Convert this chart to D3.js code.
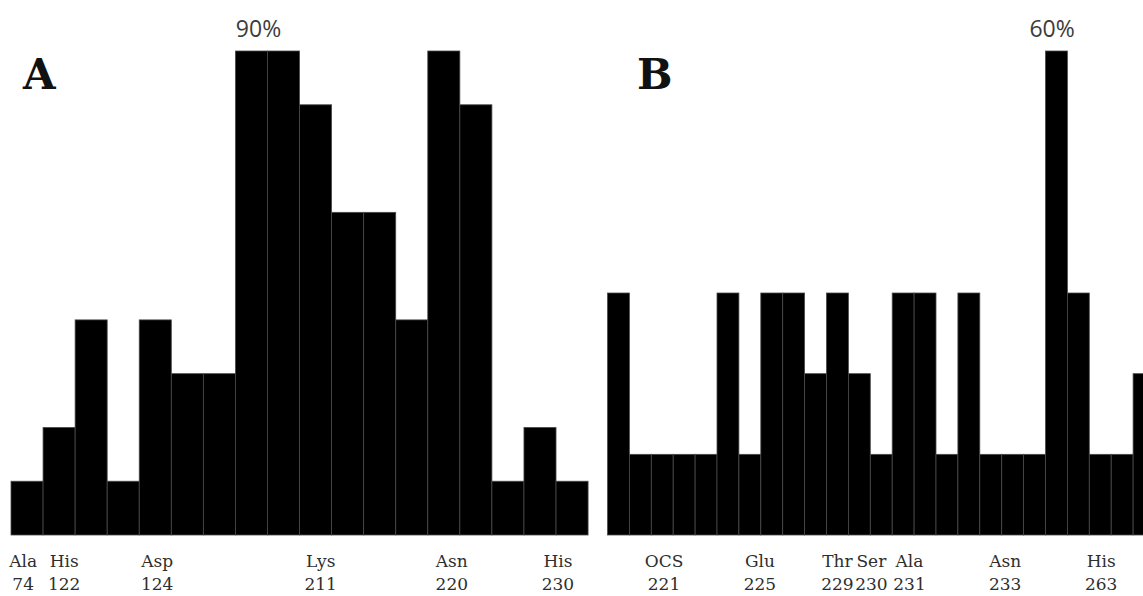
<!DOCTYPE html>
<html>
<head>
<meta charset="utf-8">
<script src="https://cdn.jsdelivr.net/npm/d3@7"></script>
<style>
    body { margin: 0; background: #fff; }
    .tick-label { font-family: "DejaVu Serif", serif; font-size: 17px; fill: #2e2e2e; }
    .panel-letter { font-family: "DejaVu Serif", serif; font-weight: bold; font-size: 42px; fill: #111; }
    .peak-label { font-family: "Open Sans", sans-serif; font-size: 23px; fill: #3c3c3c; }
</style>
</head>
<body>
<svg id="chart" width="1143" height="596"></svg>
<script>
/*
    Values for panel A (percent per position)
 */
var valuesA = [10, 20, 40, 10, 40, 30, 30, 90, 90, 80, 60, 60, 40, 90, 80, 10, 20, 10];

/*
    Values for panel B (percent per position)
 */
var valuesB = [30, 10, 10, 10, 10, 30, 10, 30, 30, 20, 30, 20, 10, 30, 30, 10, 30, 10, 10, 10, 60, 30, 10, 10, 20];

/*
    Tick labels: residue names, residue numbers and where they sit (in bar units)
 */
var namesA = ["Ala", "His", "Asp", "Lys", "Asn", "His"];
var numbersA = ["74", "122", "124", "211", "220", "230"];
var positionsA = [0.38, 1.66, 4.56, 9.66, 13.75, 17.06];

var namesB = ["OCS", "Glu", "Thr", "Ser", "Ala", "Asn", "His"];
var numbersB = ["221", "225", "229", "230", "231", "233", "263"];
var positionsB = [2.58, 6.96, 10.5, 12.05, 13.79, 18.16, 22.54];

var peakA = {text: "90%", pos: 7.72};
var peakB = {text: "60%", pos: 20.3};

var svg = d3.select("#chart");

var baseY = 535;
var topY = 51;

/*
    Draws one panel
 */
var drawPanel = function (values, maxValue, left, barWidth, names, numbers, positions, letter, letterX, peak) {

    var x = d3.scaleBand()
        .domain(d3.range(values.length))
        .range([left, left + barWidth * values.length])
        .padding(0);

    var y = d3.scaleLinear()
        .domain([0, maxValue])
        .range([baseY, topY]);

    var g = svg.append("g");

    g.selectAll("rect")
        .data(values)
        .enter().append("rect")
        .attr("x", function (d, i) { return x(i); })
        .attr("y", function (d) { return y(d); })
        .attr("width", x.bandwidth())
        .attr("height", function (d) { return baseY - y(d); })
        .attr("fill", "#000")
        .attr("stroke", "#4a4a4a")
        .attr("stroke-width", 0.8);

    // position in bar units -> pixels
    var pos = function (p) { return x(0) + p * x.bandwidth(); };

    g.selectAll(".name")
        .data(names)
        .enter().append("text")
        .attr("class", "tick-label name")
        .attr("text-anchor", "middle")
        .attr("x", function (d, i) { return pos(positions[i]); })
        .attr("y", 567)
        .text(function (d) { return d; });

    g.selectAll(".num")
        .data(numbers)
        .enter().append("text")
        .attr("class", "tick-label num")
        .attr("text-anchor", "middle")
        .attr("x", function (d, i) { return pos(positions[i]); })
        .attr("y", 590)
        .text(function (d) { return d; });

    g.append("text")
        .attr("class", "panel-letter")
        .attr("x", letterX)
        .attr("y", 89)
        .text(letter);

    g.append("text")
        .attr("class", "peak-label")
        .attr("text-anchor", "middle")
        .attr("x", pos(peak.pos))
        .attr("y", 37)
        .text(peak.text);
};

drawPanel(valuesA, 90, 11, 32.06, namesA, numbersA, positionsA, "A", 23, peakA);
drawPanel(valuesB, 60, 607.5, 21.9, namesB, numbersB, positionsB, "B", 637, peakB);
</script>
</body>
</html>
